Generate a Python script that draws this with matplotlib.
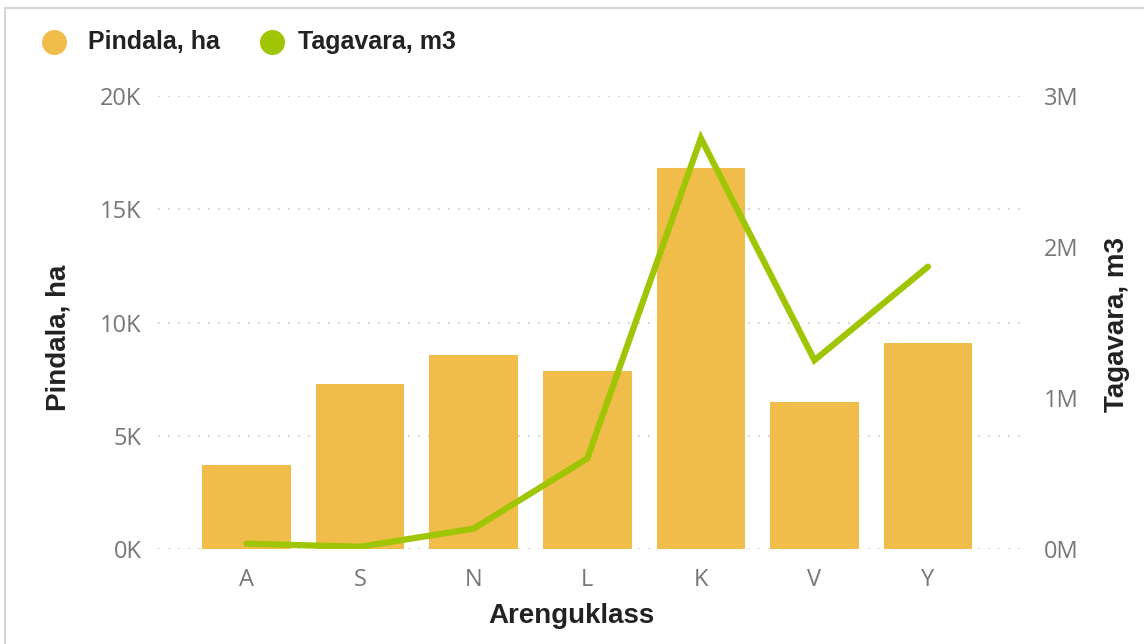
import matplotlib
matplotlib.use("Agg")
import matplotlib.pyplot as plt
from matplotlib.lines import Line2D
from matplotlib.patches import Rectangle

### andmed
klassid = ["A", "S", "N", "L", "K", "V", "Y"]
pindala = [3700, 7300, 8550, 7850, 16800, 6500, 9100]          # ha
tagavara = [35000, 15000, 135000, 600000, 2720000, 1250000, 1870000]  # m3

vahi_tikid = [0, 5000, 10000, 15000, 20000]
vahi_sildid = ["0K", "5K", "10K", "15K", "20K"]
par_tikid = [0, 1000000, 2000000, 3000000]
par_sildid = ["0M", "1M", "2M", "3M"]

kollane = "#F0BD4A"
roheline = "#9FC505"
hall = "#777777"
bold_font = ["Liberation Sans", "DejaVu Sans"]

plt.rcParams["font.family"] = ["Open Sans", "DejaVu Sans"]

fig = plt.figure(figsize=(11.44, 6.44), dpi=100)
ax = fig.add_axes([158/1144, 1-549/644, (1020-158)/1144, (549-96)/644])
ax2 = ax.twinx()

x = list(range(len(klassid)))
ax.bar(x, pindala, width=0.78, color=kollane, zorder=2)
ax2.plot(x, tagavara, color=roheline, lw=4.5, solid_capstyle="round",
         solid_joinstyle="miter", zorder=3)

ax.set_xlim(-0.78, 6.81)
ax.set_ylim(0, 20000)
ax2.set_ylim(0, 3000000)

ax.set_yticks(vahi_tikid)
ax.set_yticklabels(vahi_sildid)
ax2.set_yticks(par_tikid)
ax2.set_yticklabels(par_sildid)
ax.set_xticks(x)
ax.set_xticklabels(klassid)

for a in (ax, ax2):
    for s in a.spines.values():
        s.set_visible(False)
    a.tick_params(length=0, colors=hall, labelsize=17)
ax.tick_params(axis="y", pad=12)
ax.tick_params(axis="x", pad=14)
ax2.tick_params(axis="y", pad=17)

ax.grid(axis="y", color="#C8C8C8", linestyle=(0, (1, 5)), lw=1.2, zorder=0)
ax.set_axisbelow(True)
ax2.set_zorder(ax.get_zorder() + 1)
ax2.patch.set_visible(False)

# teljesildid
fig.text(58/1144, 1-338/644, "Pindala, ha", family=bold_font, fontweight="bold",
         fontsize=20, color="#222222", rotation=90, ha="center", va="center")
fig.text(1117/1144, 1-325/644, "Tagavara, m3", family=bold_font, fontweight="bold",
         fontsize=20, color="#222222", rotation=90, ha="center", va="center")
fig.text(571/1144, 1-616/644, "Arenguklass", family=bold_font, fontweight="bold",
         fontsize=20, color="#222222", ha="center", va="center")

# legend
fig.add_artist(Line2D([54/1144], [1-42/644], marker="o", markersize=17,
                      color=kollane, transform=fig.transFigure))
fig.text(88/1144, 1-42/644, "Pindala, ha", family=bold_font,
         fontweight="bold", fontsize=18, color="#222222", va="center")
fig.add_artist(Line2D([272/1144], [1-42/644], marker="o", markersize=17,
                      color=roheline, transform=fig.transFigure))
fig.text(298/1144, 1-42/644, "Tagavara, m3", family=bold_font,
         fontweight="bold", fontsize=18, color="#222222", va="center")

# raam
fig.add_artist(Rectangle((5/1144, -0.1), 1.2, 1-8/644+0.1, fill=False,
                         edgecolor="#D6D6D6", lw=1.5, transform=fig.transFigure))

fig.savefig("out.png", dpi=100)
